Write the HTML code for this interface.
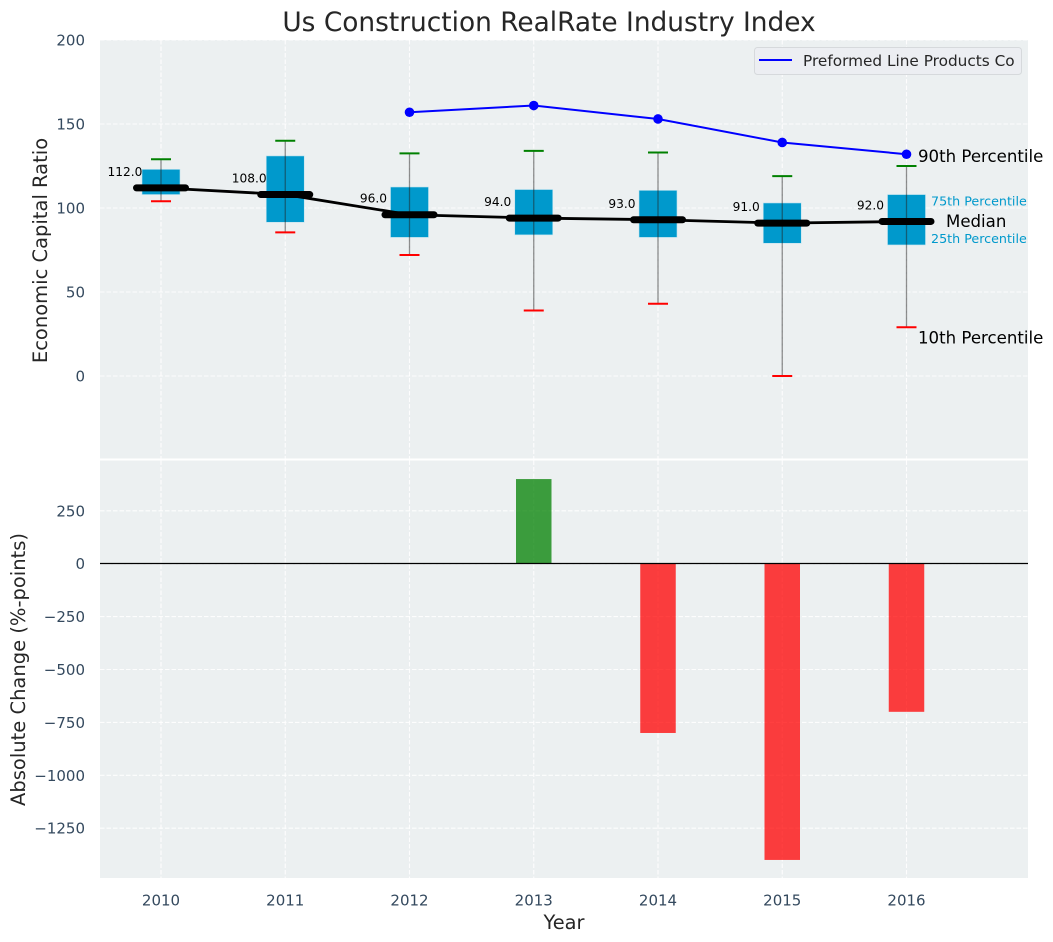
<!DOCTYPE html>
<html lang="en">
<head>
<meta charset="utf-8">
<title>Us Construction RealRate Industry Index</title>
<style>
html,body{margin:0;padding:0;background:#fff;}
svg{display:block;font-family:"DejaVu Sans","Liberation Sans",sans-serif;}
</style>
</head>
<body>
<svg id="chart" xmlns="http://www.w3.org/2000/svg" width="1053" height="942" viewBox="0 0 1053 942"></svg>
<script>
const years = [2010, 2011, 2012, 2013, 2014, 2015, 2016];
const p10 = [104, 85.5, 72, 39, 43, 0, 29];
const p25 = [108, 91.5, 82.5, 84, 82.5, 79, 78];
const medians = [112, 108, 96, 94, 93, 91, 92];
const p75 = [123, 131, 112.5, 111, 110.5, 103, 108];
const p90 = [129, 140, 132.5, 134, 133, 119, 125];
const companyYears = [2012, 2013, 2014, 2015, 2016];
const companyValues = [157, 161, 153, 139, 132];
const changeYears = [2013, 2014, 2015, 2016];
const changeValues = [400, -800, -1400, -700];
const topTicks = [0, 50, 100, 150, 200];
const bottomTicks = [250, 0, -250, -500, -750, -1000, -1250];
const NS = 'http://www.w3.org/2000/svg';
const svg = document.getElementById('chart');
const X = v => 161 + (v - 2010) * 124.25;
const YT = v => 376 - v * 1.68;
const YB = v => 563.7 - v * 0.2116;
const TICK = '#34495e';
const INK = '#262626';
function mk(tag, attrs, text) {
  const el = document.createElementNS(NS, tag);
  for (const k in attrs) el.setAttribute(k, attrs[k]);
  if (text !== undefined) el.textContent = String(text);
  svg.appendChild(el);
  return el;
}
let el;
// panels
el = mk('rect', {x: 100, y: 40, width: 928, height: 418.5, fill: '#ecf0f1'});


el = mk('rect', {x: 100, y: 460.5, width: 928, height: 417.5, fill: '#ecf0f1'});


// grid
const gridStyle = {stroke: '#fff', 'stroke-width': 1.1, 'stroke-dasharray': '4.5 2', opacity: 0.9};
years.forEach(y => {
  el = mk('line', {x1: X(y), x2: X(y), y1: 40, y2: 458.5, ...gridStyle});
  
  
  el = mk('line', {x1: X(y), x2: X(y), y1: 460.5, y2: 878, ...gridStyle});
  
  
  el = mk('text', {x: X(y), y: 905.5, 'text-anchor': 'middle', 'font-size': 15, fill: TICK}, y);
  
  
});
topTicks.forEach(t => {
  el = mk('line', {x1: 100, x2: 1028, y1: YT(t), y2: YT(t), ...gridStyle});
  
  
  el = mk('text', {x: 85, y: YT(t) + 5.5, 'text-anchor': 'end', 'font-size': 15, fill: TICK}, t);
  
  
});
bottomTicks.forEach(t => {
  el = mk('line', {x1: 100, x2: 1028, y1: YB(t), y2: YB(t), ...gridStyle});
  
  
  el = mk('text', {x: 85, y: YB(t) + 5.5, 'text-anchor': 'end', 'font-size': 15, fill: TICK}, String(t).replace('-', '\u2212'));
  
  
});
// boxes
years.forEach((y, i) => {
  const cx = X(y);
  el = mk('rect', {x: cx - 19, y: YT(p75[i]), width: 38, height: YT(p25[i]) - YT(p75[i]), fill: '#0099cc', stroke: '#bfe3ef', 'stroke-width': 0.6});
  
  
  el = mk('line', {x1: cx, x2: cx, y1: YT(p90[i]), y2: YT(p10[i]), stroke: '#222', 'stroke-width': 1.3, opacity: 0.5});
  
  
  el = mk('line', {x1: cx - 10, x2: cx + 10, y1: YT(p90[i]), y2: YT(p90[i]), stroke: '#008000', 'stroke-width': 2});
  
  
  el = mk('line', {x1: cx - 10, x2: cx + 10, y1: YT(p10[i]), y2: YT(p10[i]), stroke: '#ff0000', 'stroke-width': 2});
  
  
});
// median line
el = mk('polyline', {points: years.map((y, i) => X(y) + ',' + YT(medians[i])).join(' '), fill: 'none', stroke: '#000', 'stroke-width': 2.8});


years.forEach((y, i) => {
  el = mk('line', {x1: X(y) - 24.5, x2: X(y) + 24.5, y1: YT(medians[i]), y2: YT(medians[i]), stroke: '#000', 'stroke-width': 7, 'stroke-linecap': 'round'});
  
  
  el = mk('text', {x: X(y) - 36, y: YT(medians[i]) - 12, 'text-anchor': 'middle', 'font-size': 12.2, fill: '#000'}, medians[i].toFixed(1));
  
  
});
// company line
el = mk('polyline', {points: companyYears.map((y, i) => X(y) + ',' + YT(companyValues[i])).join(' '), fill: 'none', stroke: '#0000ff', 'stroke-width': 2});


companyYears.forEach((y, i) => {
  el = mk('circle', {cx: X(y), cy: YT(companyValues[i]), r: 4.8, fill: '#0000ff'});
  
  
});
// annotations on the last box
const last = years.length - 1;
const lx = X(years[last]);
el = mk('text', {x: lx + 11.5, y: YT(p90[last]) - 4, 'font-size': 16.6, fill: '#000'}, '90th Percentile');


el = mk('text', {x: lx + 11.5, y: YT(p10[last]) + 16, 'font-size': 16.6, fill: '#000'}, '10th Percentile');


el = mk('text', {x: lx + 39.5, y: YT(medians[last]) + 5.5, 'font-size': 16.6, fill: '#000'}, 'Median');


el = mk('text', {x: lx + 24.5, y: YT(p75[last]) + 11, 'font-size': 12.7, fill: '#0099cc'}, '75th Percentile');


el = mk('text', {x: lx + 24.5, y: YT(p25[last]) - 2, 'font-size': 12.7, fill: '#0099cc'}, '25th Percentile');


// change bars
changeYears.forEach((y, i) => {
  const v = changeValues[i];
  const top = YB(Math.max(v, 0));
  const bot = YB(Math.min(v, 0));
  el = mk('rect', {x: X(y) - 17.75, y: top, width: 35.5, height: bot - top, fill: v >= 0 ? '#008000' : '#ff0000', 'fill-opacity': 0.75});
  
  
});
el = mk('line', {x1: 100, x2: 1028, y1: 563.5, y2: 563.5, stroke: '#000', 'stroke-width': 1.3});


// legend
el = mk('rect', {x: 754.5, y: 47.5, width: 267, height: 27, rx: 3, fill: '#eceef2', stroke: '#d6d9dc', 'stroke-width': 1});


el = mk('line', {x1: 759, x2: 792, y1: 60, y2: 60, stroke: '#0000ff', 'stroke-width': 2});


el = mk('text', {x: 803, y: 66, 'font-size': 15.3, fill: INK}, 'Preformed Line Products Co');


// titles
el = mk('text', {x: 549, y: 31, 'text-anchor': 'middle', 'font-size': 26.4, fill: INK}, 'Us Construction RealRate Industry Index');


el = mk('text', {x: 564, y: 929, 'text-anchor': 'middle', 'font-size': 19.4, fill: INK}, 'Year');


el = mk('text', {transform: 'translate(47,250.5) rotate(-90)', 'text-anchor': 'middle', 'font-size': 19.5, fill: INK}, 'Economic Capital Ratio');


el = mk('text', {transform: 'translate(25,669.5) rotate(-90)', 'text-anchor': 'middle', 'font-size': 19.5, fill: INK}, 'Absolute Change (%-points)');


</script>
</body>
</html>
